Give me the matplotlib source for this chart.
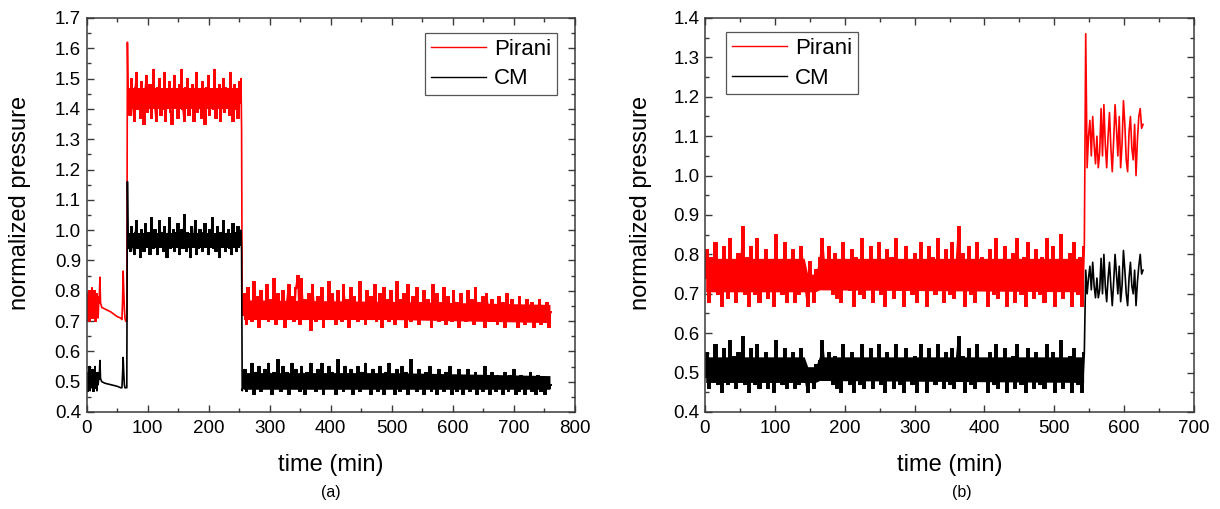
import numpy as np
import matplotlib
matplotlib.use("Agg")
import matplotlib.pyplot as plt
from matplotlib.ticker import MultipleLocator, FormatStrFormatter

plt.rcParams['font.family'] = ['Liberation Sans', 'DejaVu Sans']

# ---------------- Panel (a) data (values in units of 0.01) ----------------
a_t_start = np.arange(0, 21, 1)
a_pir_start = [71, 75, 70, 79, 72, 80, 70, 77, 73, 81, 71, 76, 72, 80, 74, 70, 79, 73, 78, 71, 76]
a_cm_start = [49, 53, 47, 51, 48, 55, 47, 50, 52, 48, 54, 47, 51, 49, 55, 48, 52, 47, 53, 49, 51]

a_t_event = [21, 22, 23, 25, 30, 40, 50, 56, 58, 59, 60, 61, 62, 63, 64, 65, 66, 67, 68, 69]
a_pir_event = [78, 84.5, 76, 74.5, 74, 73, 71.5, 71, 70.5, 76, 86.5, 80, 74, 71, 70, 70, 70, 162, 147, 138]
a_cm_event = [52, 57, 51, 50, 49.5, 49, 48.5, 48, 48, 52, 58, 53, 49, 48, 48, 48, 48, 116, 100, 94]

a_t_high = np.arange(70, 253, 2)
a_pir_high = [145, 138, 150, 141, 136, 147, 152, 140, 144, 137, 149, 143, 135, 146, 151, 139, 142, 148, 137, 145,
              153, 141, 136, 147, 143, 150, 138, 144, 140, 152, 136, 146, 142, 149, 139, 135, 145, 151, 141, 144,
              137, 148, 143, 153, 140, 136, 147, 142, 150, 138, 145, 141, 148, 136, 144, 152, 139, 146, 143, 137,
              149, 141, 135, 147, 144, 151, 138, 143, 146, 140, 153, 137, 145, 142, 148, 136, 144, 150, 139, 147,
              141, 145, 138, 152, 143, 136, 148, 140, 146, 137, 149, 142]
a_cm_high = [97, 93, 101, 95, 92, 99, 103, 94, 98, 91, 100, 96, 93, 102, 97, 95, 99, 92, 104, 96,
             94, 100, 97, 92, 98, 103, 95, 99, 93, 101, 96, 91, 98, 104, 94, 97, 100, 93, 99, 95,
             102, 92, 97, 100, 94, 105, 96, 93, 99, 97, 91, 101, 95, 98, 103, 92, 97, 94, 100, 96,
             93, 99, 102, 95, 97, 92, 100, 96, 104, 94, 98, 93, 101, 97, 91, 99, 95, 103, 96, 93,
             98, 100, 94, 97, 92, 102, 96, 99, 93, 101, 95, 98]

a_t_drop = [253, 254, 255]
a_pir_drop = [150, 133, 72]
a_cm_drop = [100, 93, 47]

a_t_low = np.arange(256, 761, 3)
a_pir_low = [72, 79, 69, 81, 74, 70, 83, 73, 78, 68, 80, 75, 71, 82, 70, 77, 73, 84, 69, 79,
             74, 71, 80, 68, 76, 82, 72, 78, 70, 81, 85, 69, 84, 73, 77, 71, 79, 67, 82, 74,
             70, 78, 73, 81, 68, 76, 72, 83, 71, 79, 74, 69, 80, 75, 70, 82, 73, 77, 68, 81,
             72, 78, 74, 70, 83, 71, 76, 69, 80, 73, 78, 71, 82, 70, 75, 79, 68, 81, 73, 77,
             70, 80, 74, 69, 83, 72, 77, 71, 79, 68, 82, 74, 70, 78, 73, 81, 69, 76, 72, 80,
             71, 77, 74, 68, 82, 73, 79, 70, 76, 72, 81, 69, 78, 74, 70, 80, 73, 76, 68, 79,
             72, 75, 70, 80, 73, 77, 69, 81, 71, 76, 72, 78, 68, 79, 74, 70, 77, 72, 75, 69,
             78, 71, 76, 68, 79, 73, 70, 77, 72, 75, 68, 78, 71, 74, 69, 77, 72, 70, 76, 68,
             75, 71, 77, 69, 74, 70, 76, 68, 73]
a_cm_low = [48, 54, 47, 52, 50, 56, 46, 53, 49, 55, 47, 51, 54, 48, 56, 50, 46, 53, 49, 57,
            51, 47, 55, 49, 53, 46, 52, 56, 48, 54, 50, 47, 55, 51, 46, 53, 49, 56, 48, 52,
            47, 54, 50, 56, 46, 52, 49, 55, 48, 53, 51, 46, 57, 49, 52, 47, 55, 50, 48, 54,
            46, 52, 49, 55, 47, 53, 50, 56, 48, 51, 46, 54, 49, 52, 47, 55, 50, 46, 53, 49,
            56, 48, 52, 46, 54, 50, 47, 55, 49, 53, 46, 51, 57, 48, 52, 47, 54, 49, 51, 46,
            53, 48, 55, 47, 50, 52, 46, 54, 49, 51, 47, 53, 48, 55, 46, 50, 52, 47, 54, 49,
            46, 52, 48, 54, 47, 51, 49, 53, 46, 50, 52, 47, 55, 48, 51, 46, 53, 49, 47, 52,
            48, 51, 46, 53, 49, 47, 52, 48, 54, 46, 50, 47, 52, 49, 46, 51, 48, 53, 47, 50,
            46, 52, 48, 47, 51, 46, 50, 48, 49]

# solid cores of the noise bands (units of 0.01)
a_hi_core_t = [70, 252]
a_pir_hi_core_lo = [140, 140]
a_pir_hi_core_hi = [147, 147]
a_cm_hi_core_lo = [94, 94]
a_cm_hi_core_hi = [99, 99]
a_lo_core_t = [257, 500, 759]
a_pir_lo_core_lo = [70.5, 70.5, 69.5]
a_pir_lo_core_hi = [77, 76.5, 75.5]
a_cm_lo_core_lo = [47.5, 47.5, 47.5]
a_cm_lo_core_hi = [53, 53, 52]

# ---------------- Panel (b) data (values in units of 0.01) ----------------
b_t_main = np.arange(0, 544, 3)
b_pir_main = [74, 81, 68, 79, 71, 83, 70, 77, 67, 82, 73, 69, 84, 72, 78, 68, 80, 75, 87, 70,
              79, 67, 82, 73, 70, 84, 68, 77, 72, 81, 69, 78, 74, 67, 85, 71, 76, 70, 83, 68,
              78, 73, 81, 68, 75, 70, 82, 76, 71, 67, 78, 72, 68, 76, 75, 79, 84, 77, 73, 82,
              76, 70, 80, 69, 74, 68, 83, 72, 77, 71, 81, 67, 79, 74, 70, 84, 69, 76, 72, 82,
              68, 78, 73, 83, 70, 76, 67, 81, 72, 79, 69, 84, 74, 71, 78, 67, 82, 73, 77, 70,
              80, 68, 75, 83, 71, 77, 67, 82, 73, 79, 70, 84, 72, 76, 68, 81, 74, 70, 83, 69,
              78, 87, 72, 80, 67, 76, 82, 70, 74, 68, 83, 73, 79, 71, 77, 67, 81, 75, 70, 84,
              69, 78, 73, 82, 67, 76, 71, 80, 68, 84, 74, 70, 79, 67, 83, 72, 77, 69, 81, 73,
              70, 79, 68, 84, 74, 71, 82, 67, 77, 73, 85, 69, 78, 72, 80, 67, 83, 74, 70, 79,
              67, 82]
b_cm_main = [49, 55, 46, 53, 48, 57, 47, 51, 45, 56, 50, 47, 58, 48, 54, 46, 55, 50, 59, 47,
             53, 45, 56, 49, 47, 57, 46, 52, 48, 55, 46, 53, 50, 45, 58, 48, 51, 47, 56, 46,
             52, 49, 55, 46, 51, 47, 56, 50, 48, 45, 51, 48, 46, 52, 51, 53, 58, 52, 49, 55,
             51, 47, 54, 46, 50, 45, 57, 48, 52, 47, 55, 45, 53, 50, 47, 57, 46, 51, 48, 56,
             46, 53, 49, 57, 47, 51, 45, 55, 48, 53, 46, 57, 50, 47, 53, 45, 56, 49, 52, 47,
             54, 45, 51, 57, 48, 52, 45, 56, 49, 53, 47, 57, 48, 51, 46, 55, 50, 47, 56, 46,
             53, 59, 48, 54, 45, 51, 56, 47, 50, 46, 57, 49, 53, 48, 52, 45, 55, 51, 47, 57,
             46, 53, 49, 56, 45, 51, 48, 54, 46, 57, 50, 47, 53, 45, 56, 48, 52, 46, 55, 49,
             47, 53, 46, 57, 50, 48, 55, 45, 52, 49, 58, 46, 53, 48, 54, 45, 56, 50, 47, 53,
             45, 55]

b_t_post = np.arange(545, 628, 2)
b_pir_post = [136, 102, 110, 114, 105, 115, 108, 103, 110, 102, 106, 117, 105, 118, 108, 102, 110, 116, 107, 101,
              109, 118, 112, 105, 115, 102, 108, 119, 113, 104, 101, 111, 115, 107, 104, 113, 100, 109, 115, 117,
              112, 113]
b_cm_post = [76, 70, 74, 77, 71, 78, 72, 69, 74, 69, 71, 79, 70, 80, 72, 68, 74, 78, 72, 67,
             73, 80, 75, 70, 77, 68, 72, 81, 76, 70, 67, 74, 78, 72, 70, 76, 67, 73, 77, 80,
             75, 76]

b_core_t = [1, 142, 147, 158, 164, 542]
b_pir_core_lo = [70.5, 70.5, 70.5, 70.5, 71, 70.5]
b_pir_core_hi = [79, 79, 75, 75, 79, 79]
b_cm_core_lo = [47.5, 47.5, 47.5, 47.5, 48, 47.5]
b_cm_core_hi = [54, 54, 51.5, 51.5, 54, 54]

SCALE = 0.01
series_labels = ["Pirani", "CM"]
series_colors = ["#ff0000", "black"]
panel_labels = ["(a)", "(b)"]

a_time = np.concatenate([a_t_start, a_t_event, a_t_high, a_t_drop, a_t_low])
a_pirani = np.concatenate([a_pir_start, a_pir_event, a_pir_high, a_pir_drop, a_pir_low]) * SCALE
a_cm = np.concatenate([a_cm_start, a_cm_event, a_cm_high, a_cm_drop, a_cm_low]) * SCALE

b_time = np.concatenate([b_t_main, b_t_post])
b_pirani = np.concatenate([b_pir_main, b_pir_post]) * SCALE
b_cm = np.concatenate([b_cm_main, b_cm_post]) * SCALE

a_dense = [(a_t_start, a_pir_start, a_cm_start),
           (a_t_high, a_pir_high, a_cm_high),
           (a_t_low, a_pir_low, a_cm_low)]
b_dense = [(b_t_main, b_pir_main, b_cm_main)]
a_cores = [(a_hi_core_t, a_pir_hi_core_lo, a_pir_hi_core_hi, a_cm_hi_core_lo, a_cm_hi_core_hi),
           (a_lo_core_t, a_pir_lo_core_lo, a_pir_lo_core_hi, a_cm_lo_core_lo, a_cm_lo_core_hi)]
b_cores = [(b_core_t, b_pir_core_lo, b_pir_core_hi, b_cm_core_lo, b_cm_core_hi)]

# ---------------- Figure ----------------
W, H = 1220, 509
fig = plt.figure(figsize=(W / 100, H / 100), dpi=100)

def px_axes(l, r, t, b):
    return fig.add_axes([l / W, 1 - b / H, (r - l) / W, (b - t) / H])

ax_a = px_axes(86.5, 575, 18, 412)
ax_b = px_axes(705, 1194, 18, 412)

spine_color = "#3a3a3a"

def style(ax, xmax, ymin, ymax):
    ax.set_xlim(0, xmax)
    ax.set_ylim(ymin, ymax)
    ax.xaxis.set_major_locator(MultipleLocator(100))
    ax.xaxis.set_minor_locator(MultipleLocator(50))
    ax.yaxis.set_major_locator(MultipleLocator(0.1))
    ax.yaxis.set_minor_locator(MultipleLocator(0.05))
    ax.yaxis.set_major_formatter(FormatStrFormatter('%.1f'))
    ax.tick_params(which='both', direction='in', top=True, right=True,
                   color=spine_color, width=1.0)
    ax.tick_params(which='major', length=5, labelsize=13.5)
    ax.tick_params(axis='x', which='major', pad=6)
    ax.tick_params(axis='y', which='major', pad=4)
    ax.tick_params(which='minor', length=2.8)
    for s in ax.spines.values():
        s.set_color(spine_color)
        s.set_linewidth(1.1)
    ax.set_xlabel("time (min)", fontsize=17)
    ax.set_ylabel("normalized pressure", fontsize=17)
    ax.xaxis.set_label_coords(0.5, -0.135)
    ax.xaxis.label.set_va('center')
    ax.yaxis.label.set_va('center')

for ax, t, p, c, dense, cores, xmax, ymax in [
        (ax_a, a_time, a_pirani, a_cm, a_dense, a_cores, 800, 1.7),
        (ax_b, b_time, b_pirani, b_cm, b_dense, b_cores, 700, 1.4)]:
    for ct, plo, phi, clo, chi in cores:
        ax.fill_between(ct, np.array(plo) * SCALE, np.array(phi) * SCALE,
                        color=series_colors[0], lw=0, zorder=1.9)
        ax.fill_between(ct, np.array(clo) * SCALE, np.array(chi) * SCALE,
                        color=series_colors[1], lw=0, zorder=1.9)
    ax.plot(t, p, color=series_colors[0], lw=1.2, label=series_labels[0], zorder=2)
    ax.plot(t, c, color=series_colors[1], lw=1.2, label=series_labels[1], zorder=2.2)
    for td, pd_, cd in dense:
        ax.plot(td, np.array(pd_) * SCALE, color=series_colors[0], lw=1.4,
                drawstyle='steps-mid', solid_joinstyle='miter', zorder=2.1)
        ax.plot(td, np.array(cd) * SCALE, color=series_colors[1], lw=1.4,
                drawstyle='steps-mid', solid_joinstyle='miter', zorder=2.3)
    style(ax, xmax, 0.4, ymax)

ax_a.yaxis.set_label_coords(-0.136, 0.53)
ax_b.yaxis.set_label_coords(-0.131, 0.53)

leg_kw = dict(fontsize=16, frameon=True, fancybox=False, framealpha=1,
              edgecolor="#555555", handlelength=2.5, handletextpad=0.35,
              labelspacing=0.4, borderpad=0.25, borderaxespad=0)
leg_a = ax_a.legend(loc='upper right', bbox_to_anchor=(0.963, 0.962), **leg_kw)
leg_b = ax_b.legend(loc='upper left', bbox_to_anchor=(0.043, 0.964), **leg_kw)
for leg in (leg_a, leg_b):
    leg.get_frame().set_linewidth(0.9)
    for ln in leg.get_lines():
        ln.set_linewidth(1.0)

fig.text(331 / W, 1 - 493 / H, panel_labels[0], ha='center', va='center', fontsize=11.5)
fig.text(962 / W, 1 - 493 / H, panel_labels[1], ha='center', va='center', fontsize=11.5)

fig.savefig("out.png", dpi=100)
